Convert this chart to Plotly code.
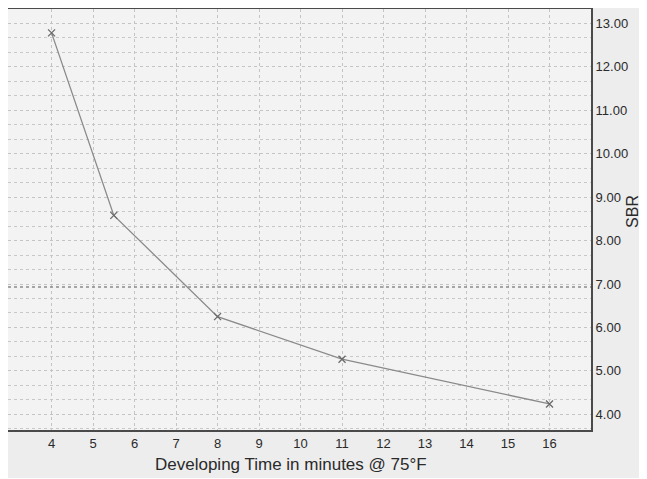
import plotly.graph_objects as go

dev_time = [4, 5.5, 8, 11, 16]
sbr = [12.78, 8.58, 6.25, 5.27, 4.24]
ref_level = 6.93
x_ticks = list(range(4, 17))
y_ticks = [4, 5, 6, 7, 8, 9, 10, 11, 12, 13]
x_title = "Developing Time in minutes @ 75°F"
y_title = "SBR"

fig = go.Figure()
fig.add_trace(go.Scatter(
    x=dev_time, y=sbr, mode="lines+markers",
    line=dict(color="#8a8a8a", width=1.3),
    marker=dict(symbol="x-thin", size=7, line=dict(color="#6a6a6a", width=1.3)),
    showlegend=False,
))
fig.add_shape(type="line", xref="paper", x0=0, x1=1, yref="y", y0=ref_level, y1=ref_level,
              line=dict(color="#8c8c8c", width=1.5, dash="dot"))

fig.add_annotation(text=x_title, xref="paper", yref="paper", x=0.485, y=-0.083,
                   showarrow=False, xanchor="center", yanchor="middle",
                   font=dict(size=17, color="#2a2a2a"))
fig.add_annotation(text=y_title, xref="paper", yref="paper", x=1.070, y=0.520,
                   showarrow=False, xanchor="center", yanchor="middle", textangle=-90,
                   font=dict(size=16, color="#2a2a2a"))

grid = dict(gridcolor="#c4c4c4", griddash="dot", gridwidth=1)
fig.update_layout(
    width=638, height=470,
    margin=dict(l=0, r=55, t=1, b=48),
    paper_bgcolor="#ededed", plot_bgcolor="#f3f3f3",
    font=dict(family="Liberation Sans, Arial", color="#2a2a2a"),
    xaxis=dict(range=[2.95, 17], tickvals=x_ticks, ticks="", ticklen=0, automargin=False,
               showline=True, linecolor="#4a4a4a", linewidth=2, mirror=True,
               tickfont=dict(size=13), zeroline=False, **grid),
    yaxis=dict(range=[3.64, 13.33], side="right", tickvals=y_ticks, tickformat=".2f",
               automargin=False, ticks="", ticklen=0,
               showline=True, linecolor="#4a4a4a", linewidth=2, mirror=True,
               tickfont=dict(size=13), zeroline=False, **grid,
               minor=dict(dtick=1/3, tick0=4, showgrid=True, gridcolor="#c8c8c8", griddash="dot")),
)
fig.write_html("out.html")
